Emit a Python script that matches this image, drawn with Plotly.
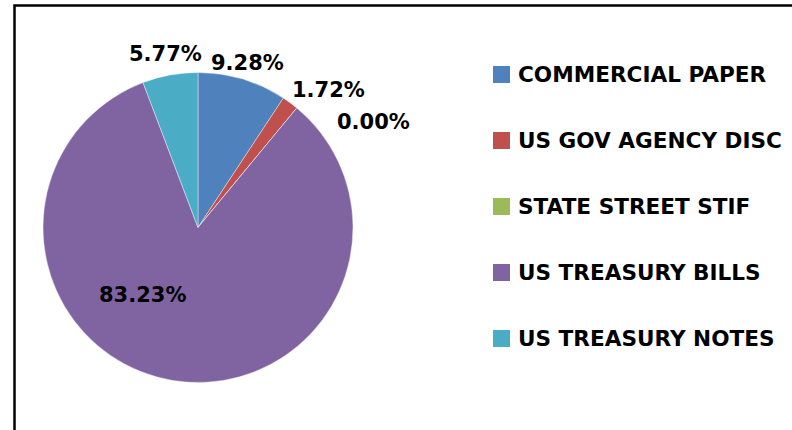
import plotly.graph_objects as go

categories = ["COMMERCIAL PAPER", "US GOV AGENCY DISC", "STATE STREET STIF",
              "US TREASURY BILLS", "US TREASURY NOTES"]
values = [9.28, 1.72, 0.00, 83.23, 5.77]
colors = ["#4F81BD", "#C0504D", "#9BBB59", "#8064A2", "#4BACC6"]

W, H = 792, 430
cx, cy, r = 198, 227.5, 155
# label centre offsets (px) from the pie centre, one per slice (layout only)
label_offsets = [(49.5, -165), (130, -138), (175, -105), (-56, 67), (-32.5, -173)]

def px(x):
    return x / W

def py(y):
    return (H - y) / H

fig = go.Figure(go.Pie(
    labels=categories, values=values, sort=False, direction="clockwise",
    rotation=0, marker=dict(colors=colors, line=dict(width=0.8, color="rgba(255,255,255,0.5)")),
    textinfo="none", showlegend=False, hoverinfo="label+percent",
    domain=dict(x=[px(cx - r), px(cx + r)], y=[py(cy + r), py(cy - r)]),
))

shapes = [dict(type="rect", xref="paper", yref="paper", x0=px(14.5), x1=1.05,
               y0=-0.05, y1=py(5.5), line=dict(color="black", width=2.5))]
annotations = []
for v, (dx, dy) in zip(values, label_offsets):
    annotations.append(dict(text=f"{v:.2f}%", xref="paper", yref="paper",
                            x=px(cx + dx), y=py(cy + dy), xanchor="center", yanchor="middle",
                            showarrow=False,
                            font=dict(family="DejaVu Sans", size=21, color="black", weight="bold")))

leg_x, leg_y0, leg_dy, sq = 493, 74.5, 66, 17
for i, (cat, col) in enumerate(zip(categories, colors)):
    yc = leg_y0 + i * leg_dy
    shapes.append(dict(type="rect", xref="paper", yref="paper",
                       x0=px(leg_x), x1=px(leg_x + sq),
                       y0=py(yc + sq / 2), y1=py(yc - sq / 2),
                       fillcolor=col, line=dict(width=0)))
    annotations.append(dict(text=cat, xref="paper", yref="paper",
                            x=px(516), y=py(yc), xanchor="left", yanchor="middle",
                            showarrow=False,
                            font=dict(family="DejaVu Sans", size=21.6, color="black", weight="bold")))

fig.update_layout(width=W, height=H, margin=dict(l=0, r=0, t=0, b=0),
                  paper_bgcolor="white", plot_bgcolor="white",
                  shapes=shapes, annotations=annotations)
fig.write_html("out.html", config={"displayModeBar": False},
               post_script="document.body.style.margin='0px';")
